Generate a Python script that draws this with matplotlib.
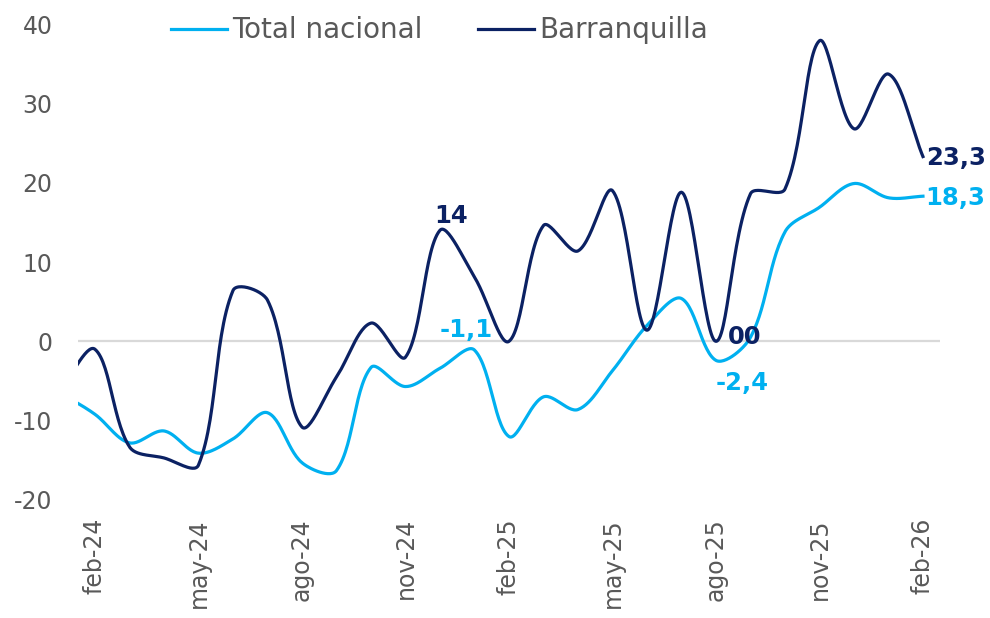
import numpy as np
import matplotlib
matplotlib.use("Agg")
import matplotlib.pyplot as plt

plt.rcParams['font.family'] = ['DejaVu Sans']
plt.rcParams['axes.unicode_minus'] = False

# meses (ene-24 queda fuera del area, solo asoma la curva)
meses = ["ene-24", "feb-24", "mar-24", "abr-24", "may-24", "jun-24", "jul-24",
         "ago-24", "sep-24", "oct-24", "nov-24", "dic-24", "ene-25", "feb-25",
         "mar-25", "abr-25", "may-25", "jun-25", "jul-25", "ago-25", "sep-25",
         "oct-25", "nov-25", "dic-25", "ene-26", "feb-26"]
etiquetas_x = ["feb-24", "may-24", "ago-24", "nov-24", "feb-25",
               "may-25", "ago-25", "nov-25", "feb-26"]

total_nacional = [-6.5, -9.2, -12.8, -11.3, -14.1, -12.3, -9.0, -15.3, -16.3,
                  -3.3, -5.7, -3.4, -1.1, -12.0, -7.0, -8.6, -3.7, 2.0, 5.4,
                  -2.4, 0.5, 13.8, 16.9, 19.9, 18.1, 18.3]
barranquilla = [-6.0, -1.0, -13.3, -14.7, -15.6, 6.4, 5.2, -10.8, -4.5, 2.3,
                -2.0, 14.0, 8.1, 0.0, 14.6, 11.4, 19.0, 1.4, 18.8, 0.0, 18.6,
                19.2, 37.9, 26.8, 33.7, 23.3]

azul_claro = "#00B0F0"
azul_oscuro = "#0B2163"
gris = "#595959"

pos_ax = [0.0785, 0.191, 0.8712, 0.770]
ancho_px = 990 * pos_ax[2] / 25.0   # px por mes
alto_px = 618 * pos_ax[3] / 60.0    # px por unidad


#Curva suavizada parecida a la de Excel: Bezier con tangentes
#escaladas segun el largo de cada tramo en pantalla
def suavizar(x, y, n=30):
    p = np.column_stack([np.asarray(x, float) * ancho_px, np.asarray(y, float) * alto_px])
    d = np.hypot(*np.diff(p, axis=0).T)
    xs, ys = [], []
    t = np.linspace(0, 1, n)[:, None]
    for i in range(len(p) - 1):
        ant = p[i - 1] if i > 0 else p[i]
        d_ant = d[i - 1] if i > 0 else 0.0
        sig = p[i + 2] if i + 2 < len(p) else p[i + 1]
        d_sig = d[i + 1] if i + 1 < len(d) else 0.0
        c1 = p[i] + (p[i + 1] - ant) * d[i] / (d_ant + d[i]) / 3
        c2 = p[i + 1] - (sig - p[i]) * d[i] / (d[i] + d_sig) / 3
        b = (1 - t) ** 3 * p[i] + 3 * (1 - t) ** 2 * t * c1 + 3 * (1 - t) * t ** 2 * c2 + t ** 3 * p[i + 1]
        xs.extend(b[:, 0] / ancho_px)
        ys.extend(b[:, 1] / alto_px)
    return np.array(xs), np.array(ys)


x = np.arange(len(meses)) - 1

fig = plt.figure(figsize=(9.9, 6.18), dpi=100)
ax = fig.add_axes(pos_ax)

ax.axhline(0, color="#D9D9D9", lw=1.6, zorder=1)

sx, sy = suavizar(x, total_nacional)
ax.plot(sx, sy, color=azul_claro, lw=2.3, label="Total nacional", zorder=3)
sx, sy = suavizar(x, barranquilla)
ax.plot(sx, sy, color=azul_oscuro, lw=2.3, label="Barranquilla", zorder=3)

ax.set_xlim(-0.5, 24.5)
ax.set_ylim(-20, 40)
ax.set_yticks(range(-20, 41, 10))
ax.set_xticks([meses.index(m) - 1 for m in etiquetas_x])
ax.set_xticklabels(etiquetas_x, rotation=90)
ax.tick_params(axis="both", length=0, colors=gris, labelsize=17)
ax.tick_params(axis="y", pad=18)
ax.tick_params(axis="x", pad=13)
for s in ax.spines.values():
    s.set_visible(False)

# etiquetas de datos
fs = 17.5
i = meses.index("dic-24") - 1
ax.annotate("14", (i, barranquilla[i + 1]), xytext=(8, 2), textcoords="offset points",
            ha="center", va="bottom", color=azul_oscuro, fontsize=fs, fontweight="bold")
i = meses.index("ene-25") - 1
ax.annotate("-1,1", (i, total_nacional[i + 1]), xytext=(-6, 6), textcoords="offset points",
            ha="center", va="bottom", color=azul_claro, fontsize=fs, fontweight="bold")
i = meses.index("ago-25") - 1
ax.annotate("00", (i, barranquilla[i + 1]), xytext=(21, 3), textcoords="offset points",
            ha="center", va="center", color=azul_oscuro, fontsize=fs, fontweight="bold")
ax.annotate("-2,4", (i, total_nacional[i + 1]), xytext=(19, -16), textcoords="offset points",
            ha="center", va="center", color=azul_claro, fontsize=fs, fontweight="bold")
i = meses.index("feb-26") - 1
ax.annotate("23,3", (i, barranquilla[i + 1]), xytext=(2, -1), textcoords="offset points",
            ha="left", va="center", color=azul_oscuro, fontsize=fs, fontweight="bold",
            annotation_clip=False)
ax.annotate("18,3", (i, total_nacional[i + 1]), xytext=(2, -1), textcoords="offset points",
            ha="left", va="center", color=azul_claro, fontsize=fs, fontweight="bold",
            annotation_clip=False)

leg = fig.legend(loc="center", bbox_to_anchor=(0.444, 0.951), ncol=2, frameon=False,
                 fontsize=20, handlelength=2.0, handletextpad=0.2, columnspacing=2.0)
for t in leg.get_texts():
    t.set_color(gris)

fig.savefig("out.png", dpi=100)
